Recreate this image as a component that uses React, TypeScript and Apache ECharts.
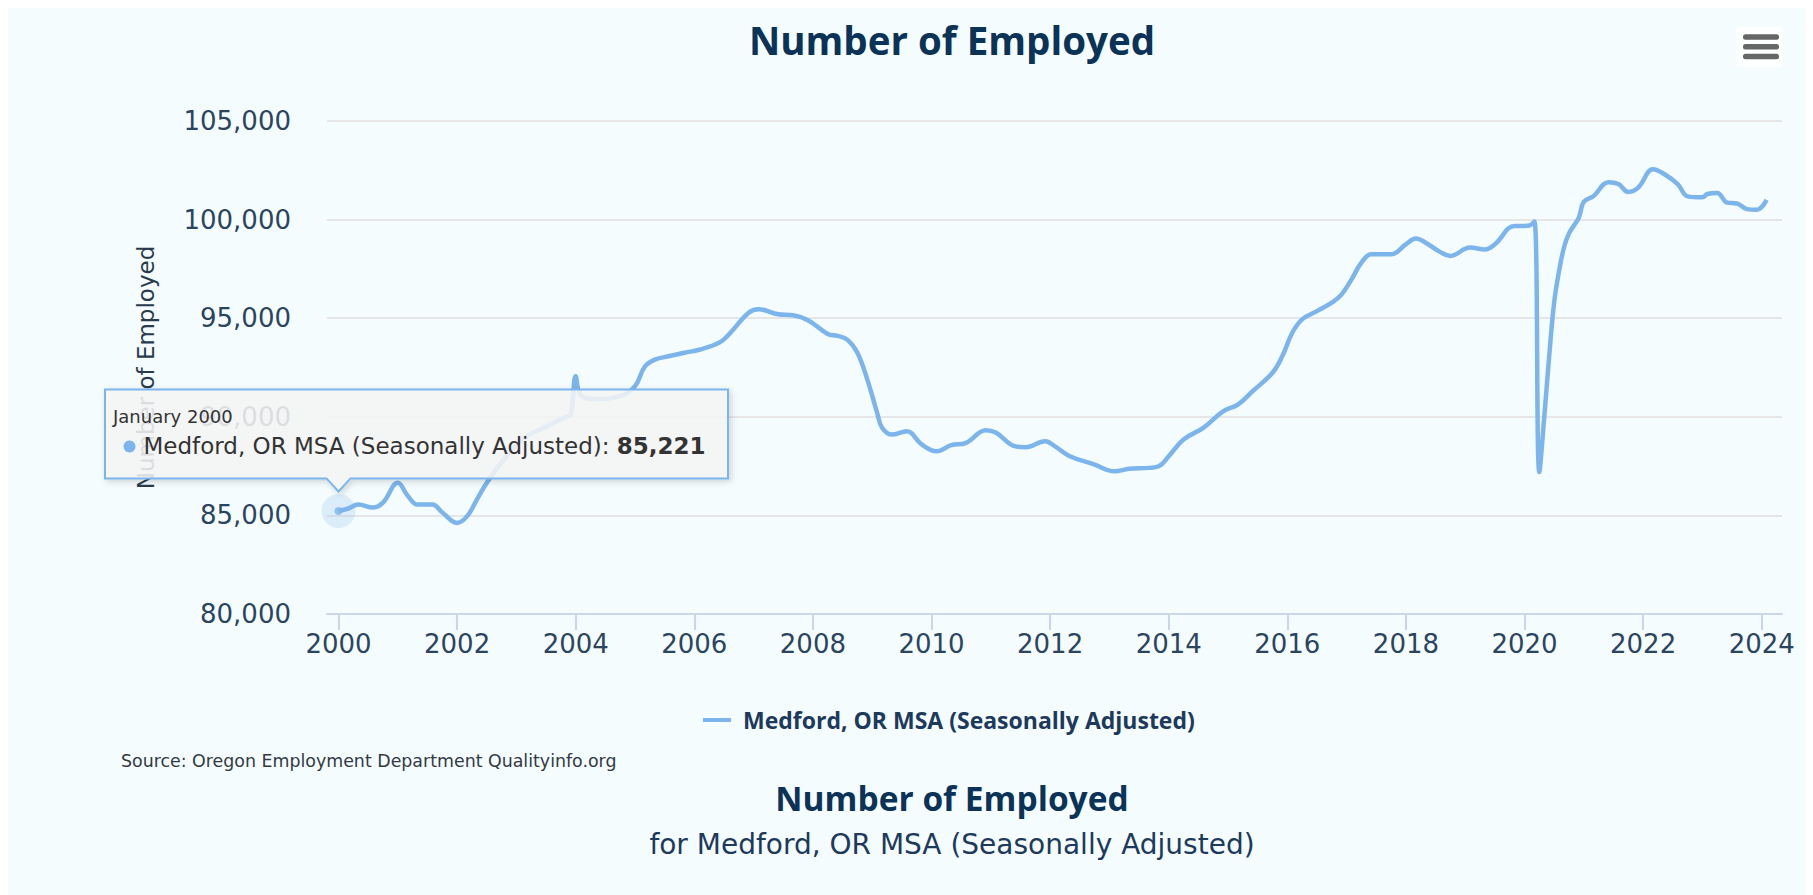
import React, { useEffect, useRef } from "react";
import * as echarts from "echarts";

// ---------- data ----------
const SERIES_NAME = "Medford, OR MSA (Seasonally Adjusted)";

const months: string[] = [
  "2000-01", "2000-03", "2000-05", "2000-08", "2000-10",
  "2001-01", "2001-03", "2001-05", "2001-08", "2001-10",
  "2002-01", "2002-03", "2002-05", "2002-07", "2002-11",
  "2003-03", "2003-07", "2003-11", "2003-12",
  "2004-01", "2004-02", "2004-05", "2004-10",
  "2005-01", "2005-03", "2005-05", "2005-08", "2005-11",
  "2006-02", "2006-06", "2006-08", "2006-12",
  "2007-02", "2007-06", "2007-09", "2007-12",
  "2008-04", "2008-06", "2008-08", "2008-10", "2008-12",
  "2009-02", "2009-03", "2009-05", "2009-08", "2009-11",
  "2010-02", "2010-05", "2010-08", "2010-12",
  "2011-02", "2011-06", "2011-08", "2011-12",
  "2012-02", "2012-05", "2012-10",
  "2013-02", "2013-05", "2013-09", "2013-11",
  "2014-01", "2014-04", "2014-08", "2014-12",
  "2015-03", "2015-06", "2015-10", "2015-12",
  "2016-02", "2016-04", "2016-07", "2016-10", "2016-12",
  "2017-02", "2017-04", "2017-06", "2017-10",
  "2018-01", "2018-03", "2018-05", "2018-08", "2018-10",
  "2019-02", "2019-05", "2019-07", "2019-11",
  "2020-01", "2020-02", "2020-03", "2020-04", "2020-05", "2020-06",
  "2020-07", "2020-08", "2020-09", "2020-10", "2020-11", "2020-12",
  "2021-01", "2021-03", "2021-06", "2021-08", "2021-10", "2021-12",
  "2022-03", "2022-05", "2022-08", "2022-10",
  "2023-01", "2023-02", "2023-04", "2023-06", "2023-08", "2023-10", "2023-12",
  "2024-02",
];

const employed: number[] = [
  85221, 85350, 85550, 85400, 85650,
  86650, 86000, 85550, 85550, 85150,
  84620, 84950, 85800, 86650, 88000,
  89000, 89500, 90000, 90100,
  92050, 91100, 90900, 91050,
  91550, 92550, 92900, 93080, 93250,
  93400, 93750, 94180, 95280,
  95450, 95200, 95150, 94900,
  94200, 94100, 93900, 93250, 91900,
  90200, 89450, 89100, 89270, 88600,
  88250, 88560, 88680, 89320,
  89200, 88500, 88460, 88760,
  88500, 88000, 87580,
  87240, 87360, 87410, 87490,
  88000, 88850, 89440, 90280,
  90620, 91300, 92230, 93080,
  94260, 94940, 95360, 95790, 96210,
  96970, 97820, 98240, 98240,
  98750, 99040, 98830, 98350, 98160,
  98580, 98490, 98750, 99680,
  99680, 99700, 99900, 87200, 90000, 93100,
  95800, 97400, 98600, 99300, 99700, 100100,
  100900, 101200, 101900, 101800, 101400, 101620,
  102550, 102350, 101800, 101180,
  101130, 101300, 101350, 100860, 100820, 100530, 100500,
  101000,
];

const xTickYears: number[] = [2000, 2002, 2004, 2006, 2008, 2010, 2012, 2014, 2016, 2018, 2020, 2022, 2024];
const Y_MIN = 80000;
const Y_MAX = 105000;
const Y_STEP = 5000;

const TOOLTIP_HEADER = "January 2000";
const CHART_TITLE = "Number of Employed";
const SUBTITLE = "for Medford, OR MSA (Seasonally Adjusted)";
const SOURCE = "Source: Oregon Employment Department Qualityinfo.org";

// ---------- styling ----------
const LINE_COLOR = "#7cb5ec";
const REG_FONT = '"DejaVu Sans", Verdana, sans-serif';
const BOLD_FONT = '"Open Sans", "Noto Sans", sans-serif';
const LABEL_COLOR = "#2b4560";
const TITLE_COLOR = "#0b3358";

function toYear(s: string): number {
  const [y, m] = s.split("-").map(Number);
  return y + (m - 1) / 12;
}

function fmt(v: number): string {
  return Math.round(v).toLocaleString("en-US");
}

export default function App() {
  const ref = useRef<HTMLDivElement>(null);

  useEffect(() => {
    if (!ref.current) return;
    const chart = echarts.init(ref.current, null, { renderer: "svg" });
    const data = months.map((m, i) => [toYear(m), employed[i]]);
    const first = data[0];

    chart.setOption({
      animation: false,
      backgroundColor: "#f4fcfe",
      tooltip: { show: false },
      grid: { left: 319, right: 31, top: 113, bottom: 281 },
      legend: {
        data: [SERIES_NAME],
        left: 690,
        top: 693,
        icon: "rect",
        itemWidth: 28,
        itemHeight: 4,
        selectedMode: false,
        textStyle: {
          fontFamily: BOLD_FONT,
          fontWeight: "bold",
          fontSize: 23,
          lineHeight: 28,
          color: "#1d3a5c",
          padding: [0, 0, 0, 7],
        },
      },
      xAxis: {
        type: "value",
        min: 1999.806,
        max: 2024.342,
        axisLine: { onZero: false, lineStyle: { color: "#ccd6eb", width: 2 } },
        axisTick: {
          show: true,
          length: 16,
          customValues: xTickYears,
          lineStyle: { color: "#ccd6eb", width: 2 },
        },
        axisLabel: {
          customValues: xTickYears,
          formatter: (v: number) => String(Math.round(v)),
          margin: 17,
          fontFamily: REG_FONT,
          fontSize: 26,
          color: LABEL_COLOR,
        },
        splitLine: { show: false },
      },
      yAxis: {
        type: "value",
        min: Y_MIN,
        max: Y_MAX,
        interval: Y_STEP,
        name: CHART_TITLE,
        nameLocation: "middle",
        nameGap: 170,
        nameTextStyle: { fontFamily: REG_FONT, fontSize: 23, color: "#2a3b4d" },
        axisLine: { show: false },
        axisTick: { show: false },
        axisLabel: {
          margin: 36,
          fontFamily: REG_FONT,
          fontSize: 26,
          color: LABEL_COLOR,
          formatter: (v: number) => fmt(v),
        },
        splitLine: { lineStyle: { color: "#e6e6e6", width: 2 } },
      },
      series: [
        {
          type: "line",
          name: SERIES_NAME,
          data,
          color: LINE_COLOR,
          smooth: 0.4,
          showSymbol: false,
          symbol: "none",
          lineStyle: { width: 4.5, color: LINE_COLOR },
          emphasis: { disabled: true },
          z: 3,
        },
        {
          type: "scatter",
          name: "halo",
          data: [first],
          symbolSize: 34,
          itemStyle: { color: "rgba(124,181,236,0.25)" },
          silent: true,
          z: 4,
        },
        {
          type: "scatter",
          name: "point",
          data: [first],
          symbolSize: 8,
          itemStyle: { color: LINE_COLOR },
          silent: true,
          z: 5,
        },
      ],
    });

    const [px, py] = chart.convertToPixel({ gridIndex: 0 }, first) as number[];
    const L = px - 233.5;
    const R = px + 389.5;
    const T = py - 121.6;
    const B = py - 32.6;
    const tip = py - 19.6;

    chart.setOption({
      graphic: [
        // titles
        {
          type: "text",
          silent: true,
          style: {
            text: CHART_TITLE,
            x: 944,
            y: 32,
            align: "center",
            verticalAlign: "middle",
            fontFamily: BOLD_FONT,
            fontWeight: "bold",
            fontSize: 38.5,
            fill: TITLE_COLOR,
          },
        },
        {
          type: "text",
          silent: true,
          style: {
            text: SOURCE,
            x: 113,
            y: 753,
            align: "left",
            verticalAlign: "middle",
            fontFamily: REG_FONT,
            fontSize: 17.4,
            fill: "#333a44",
          },
        },
        {
          type: "text",
          silent: true,
          style: {
            text: CHART_TITLE,
            x: 944,
            y: 790,
            align: "center",
            verticalAlign: "middle",
            fontFamily: BOLD_FONT,
            fontWeight: "bold",
            fontSize: 33.5,
            fill: TITLE_COLOR,
          },
        },
        {
          type: "text",
          silent: true,
          style: {
            text: SUBTITLE,
            x: 944,
            y: 836,
            align: "center",
            verticalAlign: "middle",
            fontFamily: REG_FONT,
            fontSize: 28,
            fill: "#1d3a5c",
          },
        },
        // export menu button
        {
          type: "rect",
          silent: true,
          shape: { x: 1728, y: 19, width: 47, height: 40, r: 4 },
          style: { fill: "rgba(255,255,255,0.9)" },
        },
        {
          type: "rect",
          silent: true,
          shape: { x: 1735, y: 26.3, width: 36, height: 5.5, r: 2.5 },
          style: { fill: "#666666" },
        },
        {
          type: "rect",
          silent: true,
          shape: { x: 1735, y: 36, width: 36, height: 5.5, r: 2.5 },
          style: { fill: "#666666" },
        },
        {
          type: "rect",
          silent: true,
          shape: { x: 1735, y: 45.7, width: 36, height: 5.5, r: 2.5 },
          style: { fill: "#666666" },
        },
        // tooltip callout
        {
          type: "polygon",
          silent: true,
          z: 100,
          shape: {
            points: [
              [L, T],
              [R, T],
              [R, B],
              [px + 12, B],
              [px, tip],
              [px - 12, B],
              [L, B],
            ],
          },
          style: {
            fill: "rgba(247,247,247,0.85)",
            stroke: LINE_COLOR,
            lineWidth: 2,
            shadowBlur: 6,
            shadowColor: "rgba(0,0,0,0.18)",
            shadowOffsetX: 2,
            shadowOffsetY: 2,
          },
        },
        {
          type: "text",
          silent: true,
          z: 101,
          style: {
            text: TOOLTIP_HEADER,
            x: px - 225.5,
            y: py - 94.6,
            align: "left",
            verticalAlign: "middle",
            fontFamily: REG_FONT,
            fontSize: 18,
            fill: "#333333",
          },
        },
        {
          type: "circle",
          silent: true,
          z: 101,
          shape: { cx: px - 209, cy: py - 64.6, r: 6 },
          style: { fill: LINE_COLOR },
        },
        {
          type: "text",
          silent: true,
          z: 101,
          style: {
            text: "{a|" + SERIES_NAME + ": }{b|" + fmt(first[1]) + "}",
            x: px - 195,
            y: py - 64.6,
            align: "left",
            verticalAlign: "middle",
            rich: {
              a: { fontFamily: REG_FONT, fontSize: 23, fill: "#333333", color: "#333333" },
              b: { fontFamily: REG_FONT, fontSize: 23, fontWeight: "bold", fill: "#333333", color: "#333333" },
            },
          },
        },
      ],
    });

    return () => chart.dispose();
  }, []);

  return (
    <div
      ref={ref}
      style={{ position: "fixed", left: 0, top: 0, width: 1805, height: 887 }}
    />
  );
}
